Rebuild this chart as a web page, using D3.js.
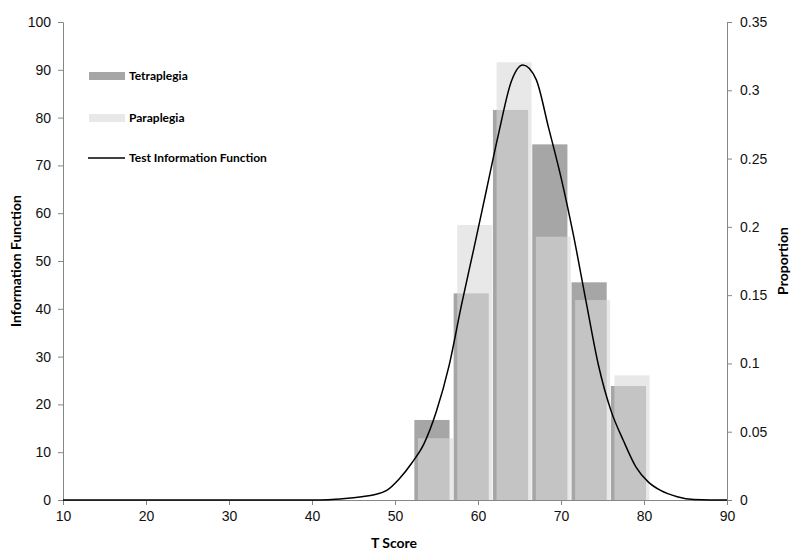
<!DOCTYPE html>
<style>
body { margin: 0; background: #fff; }
svg { font-family: Lato, "Open Sans", sans-serif; }
.tick text { font-size: 14px; fill: #111; }
.title { font-size: 12px; font-weight: bold; }
.axis-title { font-size: 14px; font-weight: bold; }
</style>
<svg width="800" height="556"></svg>
<script src="https://cdn.jsdelivr.net/npm/d3@7"></script>
<script>

// proportion of patients per T-score bin
var bins = ["52-57", "57-61", "61-66", "66-71", "71-76", "76-81"];
var tetraplegia = [0.0586, 0.1513, 0.2856, 0.2604, 0.1594, 0.0835];
var paraplegia  = [0.0452, 0.2014, 0.3205, 0.1928, 0.1464, 0.0913];

// test information function
var tifScore = [10, 20, 30, 40, 42, 44, 46, 47.5, 49, 50.5, 52, 53.5, 55, 56.5, 58, 59.5, 61, 62.5, 64, 65.4,
                67, 68.5, 70, 71.5, 73, 74.5, 76, 77.5, 79, 80.5, 82, 84, 86, 88, 90];
var tifValue = [0, 0, 0, 0, 0.05, 0.3, 0.7, 1.1, 2.0, 4.4, 7.7, 11.8, 18.6, 28, 40.7, 52.6, 64.7, 76.8, 87.5, 91,
                88, 77.9, 67.5, 55.4, 41.7, 28.3, 18.8, 12.5, 7, 3.8, 2.0, 0.7, 0.1, 0, 0];

var xTicks = [10, 20, 30, 40, 50, 60, 70, 80, 90];
var leftTicks = [0, 10, 20, 30, 40, 50, 60, 70, 80, 90, 100];
var rightTicks = [0, 0.05, 0.1, 0.15, 0.2, 0.25, 0.3, 0.35];

var svg = d3.select("svg"),
    margin = {top: 22, right: 73, bottom: 56, left: 63},
    width = +svg.attr("width") - margin.left - margin.right,
    height = +svg.attr("height") - margin.top - margin.bottom;

var g = svg.append("g").attr("transform", "translate(" + margin.left + "," + margin.top + ")");

var x = d3.scaleLinear().domain([10, 90]).range([0, width]);
var yL = d3.scaleLinear().domain([0, 100]).range([height, 0]);
var yR = d3.scaleLinear().domain([0, 0.35]).range([height, 0]);

// bars sit on their own category axis, spanning roughly T 52.3 - 80.7
var band = d3.scaleBand().domain(bins).range([x(52.33), x(80.74)]).paddingInner(0).paddingOuter(0);
var bw = band.bandwidth();

g.append("g")
  .selectAll("rect")
  .data(tetraplegia)
  .enter().append("rect")
    .attr("x", function(d, i) { return band(bins[i]); })
    .attr("width", bw * 0.895)
    .attr("y", function(d) { return yR(d); })
    .attr("height", function(d) { return height - yR(d); })
    .attr("fill", "#a6a6a6");

g.append("g")
  .selectAll("rect")
  .data(paraplegia)
  .enter().append("rect")
    .attr("x", function(d, i) { return band(bins[i]) + bw * 0.092; })
    .attr("width", bw * 0.89)
    .attr("y", function(d) { return yR(d); })
    .attr("height", function(d) { return height - yR(d); })
    .attr("fill", "#d8d8d8")
    .attr("fill-opacity", 0.6);

// axes
function styleAxis(sel) {
  sel.select(".domain").attr("stroke", "#868686");
  sel.selectAll(".tick line").attr("stroke", "#868686");
}

g.append("g")
    .attr("transform", "translate(0," + height + ")")
    .call(d3.axisBottom(x).tickValues(xTicks).tickSizeOuter(0).tickSize(5).tickPadding(6))
    .call(styleAxis);

g.append("g")
    .call(d3.axisLeft(yL).tickValues(leftTicks).tickSizeOuter(0).tickSize(5).tickPadding(7))
    .call(styleAxis);

g.append("g")
    .attr("transform", "translate(" + width + ",0)")
    .call(d3.axisRight(yR).tickValues(rightTicks).tickSizeOuter(0).tickSize(5).tickPadding(8)
      .tickFormat(function(d) { return String(+d.toFixed(2)); }))
    .call(styleAxis);

svg.selectAll(".tick text").attr("font-family", null).attr("font-size", null);

// information curve
var line = d3.line()
    .x(function(d, i) { return x(tifScore[i]); })
    .y(function(d) { return yL(d); })
    .curve(d3.curveMonotoneX);

g.append("path")
    .datum(tifValue)
    .attr("fill", "none")
    .attr("stroke", "#000")
    .attr("stroke-width", 1.5)
    .attr("d", line);

// axis titles
svg.append("text")
    .attr("class", "axis-title")
    .attr("x", 394)
    .attr("y", 548)
    .attr("text-anchor", "middle")
    .text("T Score");

svg.append("text")
    .attr("class", "axis-title")
    .attr("transform", "translate(21," + (margin.top + height / 2) + ") rotate(-90)")
    .attr("text-anchor", "middle")
    .text("Information Function");

svg.append("text")
    .attr("class", "axis-title")
    .attr("transform", "translate(788," + (margin.top + height / 2) + ") rotate(-90)")
    .attr("text-anchor", "middle")
    .text("Proportion");

// legend
var legend = svg.append("g").attr("transform", "translate(89,0)");
var items = [
  {name: "Tetraplegia", y: 76, type: "bar", fill: "#a6a6a6", op: 1},
  {name: "Paraplegia", y: 118, type: "bar", fill: "#d8d8d8", op: 0.6},
  {name: "Test Information Function", y: 158, type: "line"}
];
items.forEach(function(d) {
  if (d.type === "bar") {
    legend.append("rect")
        .attr("x", 0).attr("y", d.y - 4)
        .attr("width", 36).attr("height", 8)
        .attr("fill", d.fill).attr("fill-opacity", d.op);
  } else {
    legend.append("line")
        .attr("x1", -1).attr("x2", 36)
        .attr("y1", d.y).attr("y2", d.y)
        .attr("stroke", "#000").attr("stroke-width", 1.5);
  }
  legend.append("text")
      .attr("class", "title")
      .attr("x", 40).attr("y", d.y)
      .attr("dy", "0.35em")
      .text(d.name);
});

</script>
